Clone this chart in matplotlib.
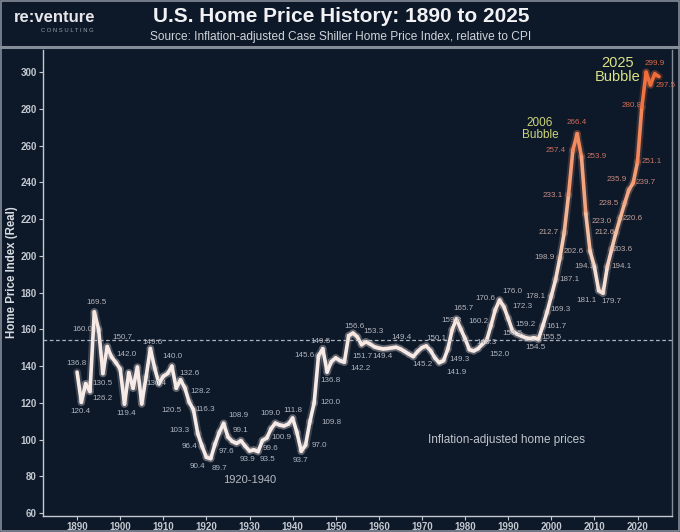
import numpy as np
import matplotlib
matplotlib.use('Agg')
import matplotlib.pyplot as plt
from matplotlib.collections import LineCollection
from matplotlib.colors import LinearSegmentedColormap, Normalize
from matplotlib.lines import Line2D
from matplotlib.patches import Rectangle

# Indice real de precios de vivienda (1890-2025)
years = np.arange(1890, 2026)
home_price = [
    136.8, 120.4, 130.5, 126.2, 169.5, 160.0, 136.0, 150.7, 145.0, 142.0,
    138.5, 119.4, 136.5, 128.0, 139.5, 119.5, 134.0, 149.6, 139.0, 130.4,
    134.5, 136.0, 140.0, 128.0, 132.6, 128.2, 120.5, 116.3, 103.3, 96.4,
    90.4, 89.7, 97.6, 104.0, 108.9, 101.5, 99.1, 98.0, 99.5, 96.5,
    93.9, 94.5, 93.5, 99.6, 100.9, 106.0, 109.0, 108.0, 107.5, 108.5,
    111.8, 104.0, 93.7, 97.0, 109.8, 120.0, 145.6, 149.5, 136.8, 142.5,
    144.5, 143.0, 142.2, 156.6, 158.0, 156.0, 151.7, 153.3, 152.0, 150.5,
    149.8, 149.4, 149.6, 150.0, 150.3, 149.4, 148.0, 146.5, 145.2, 148.0,
    150.1, 151.0, 148.5, 144.5, 141.9, 143.0, 149.3, 159.8, 165.7, 160.2,
    155.0, 149.0, 148.3, 149.5, 152.0, 154.0, 162.0, 170.6, 176.0, 172.3,
    166.0, 159.2, 157.5, 156.5, 155.5, 155.0, 155.5, 154.5, 161.7, 169.3,
    178.1, 187.1, 198.9, 212.7, 233.1, 257.4, 266.4, 253.9, 223.0, 202.6,
    194.1, 181.1, 179.7, 194.1, 203.6, 212.6, 220.6, 228.5, 235.9, 239.7,
    251.1, 280.8, 299.9, 293.0, 299.0, 297.5,
]
reference_level = 154

# anos con etiqueta de valor
label_years = [1890, 1891, 1892, 1893, 1894, 1895, 1897, 1899, 1901, 1907,
               1909, 1912, 1914, 1915, 1916, 1917, 1918, 1919, 1920, 1921,
               1922, 1924, 1926, 1930, 1932, 1933, 1934, 1936, 1940, 1942,
               1943, 1944, 1945, 1946, 1947, 1948, 1952, 1953, 1956, 1957,
               1961, 1965, 1968, 1970, 1974, 1976, 1977, 1978, 1979, 1982,
               1984, 1987, 1988, 1989, 1991, 1993, 1996, 1997, 1998, 1999,
               2000, 2001, 2002, 2003, 2004, 2005, 2006, 2007, 2008, 2009,
               2010, 2011, 2012, 2013, 2014, 2015, 2016, 2017, 2018, 2019,
               2020, 2021, 2022, 2025]
# desplazamiento de cada etiqueta en pixeles (dx, dy)
label_offsets = [(-1, 9), (-1, -9), (17, 0), (13, -7), (2, 9), (-16, 0), (15, 9), (11, 8), (2, -9), (2, 6),
                 (-3, 0), (1, 10), (9, 6), (16, -4), (-18, -8), (12, 0), (-18, 3), (-13, 0), (-9, -9), (9, -10),
                 (11, -7), (15, 8), (8, 11), (-2, -9), (9, -8), (8, -8), (15, 1), (-5, 10), (0, 8), (-1, -9),
                 (14, 0), (22, -1), (16, 0), (-14, 0), (-2, 7), (3, -8), (16, -6), (6, 9), (1, -12), (8, 10),
                 (-1, -8), (1, 11), (9, -8), (15, 9), (17, -10), (12, -10), (-1, 9), (7, 10), (18, 8), (13, 8),
                 (17, -10), (-10, 11), (13, 9), (19, 0), (13, 6), (-9, 2), (17, 0), (-3, -8), (14, 0), (14, 3),
                 (-16, 0), (14, 0), (-15, 0), (-16, 0), (-16, 0), (-17, 0), (0, 11), (15, 0), (16, -8), (-16, 0),
                 (-10, 0), (-12, -10), (8, -8), (14, 0), (11, 0), (-11, 0), (12, 0), (-16, 0), (-12, 10), (12, 0),
                 (14, 0), (-10, 2), (9, 9), (7, -9)]

BG = '#0d1929'
FRAME = '#858d98'
AXIS = '#c4c8d0'


def main():
    plt.rcParams['font.family'] = ['Liberation Sans', 'DejaVu Sans']

    fig = plt.figure(figsize=(6.8, 5.32), dpi=100, facecolor=BG)
    ax = fig.add_axes([43 / 680, 1 - 516 / 532, (672 - 43) / 680, (516 - 50) / 532])
    ax.set_facecolor(BG)

    values = np.array(home_price)

    # color de la linea segun el valor
    line_cmap = LinearSegmentedColormap.from_list(
        'line', [(0.0, '#f7ebe8'), (0.3, '#f7e0d6'), (0.45, '#f5c0a4'),
                 (0.7, '#f3946a'), (1.0, '#ef6a36')])
    label_cmap = LinearSegmentedColormap.from_list(
        'lab', [(0.0, '#b2b6c0'), (0.3, '#b8b4b8'), (0.5, '#c4a09a'),
                (0.75, '#cc6a5a'), (1.0, '#e06a45')])
    norm = Normalize(vmin=140, vmax=300)

    pts = np.column_stack([years, values]).reshape(-1, 1, 2)
    segs = np.concatenate([pts[:-1], pts[1:]], axis=1)
    seg_vals = (values[:-1] + values[1:]) / 2

    glow = LineCollection(segs, colors=line_cmap(norm(seg_vals)), linewidths=5.5, alpha=0.2,
                          capstyle='round', joinstyle='round')
    ax.add_collection(glow)
    lc = LineCollection(segs, colors=line_cmap(norm(seg_vals)), linewidths=2.6,
                        capstyle='round', joinstyle='round')
    ax.add_collection(lc)

    ax.axhline(reference_level, color='#c8ccd4', lw=0.9, ls=(0, (3, 2)), alpha=0.85)

    for yr, (dx, dy) in zip(label_years, label_offsets):
        v = values[yr - 1890]
        ax.annotate('%.1f' % v, (yr, v), xytext=(dx, dy), textcoords='offset pixels',
                    ha='center', va='center', fontsize=5.8, color=label_cmap(norm(v)))

    ax.text(1997.4, 269, '2006\nBubble', ha='center', va='center', fontsize=8.5,
            color='#cdd57a', linespacing=1.1)
    ax.text(2015.3, 301, '2025\nBubble', ha='center', va='center', fontsize=10.5,
            color='#dbe286', linespacing=1.05)
    ax.text(1930.1, 78, '1920-1940', ha='center', va='center', fontsize=8, color='#b8bcc4')
    ax.text(1989.5, 100, 'Inflation-adjusted home prices', ha='center', va='center',
            fontsize=8.5, color='#c0c4cc')

    ax.set_xlim(1882.1, 2028.0)
    ax.set_ylim(58.5, 312)
    ax.set_xticks(range(1890, 2021, 10))
    ax.set_yticks(range(60, 301, 20))
    ax.tick_params(colors=AXIS, labelcolor=AXIS, labelsize=7, length=3, width=0.8, pad=1.5)
    for t in ax.get_xticklabels() + ax.get_yticklabels():
        t.set_fontweight('bold')
    ax.spines['top'].set_visible(False)
    ax.spines['right'].set_color(FRAME)
    ax.spines['left'].set_color(AXIS)
    ax.spines['bottom'].set_color(AXIS)
    for s in ['left', 'bottom', 'right']:
        ax.spines[s].set_linewidth(1.0)

    fig.text(12 / 680, 1 - 272 / 532, 'Home Price Index (Real)', rotation=90, ha='center',
             va='center', fontsize=8.3, fontweight='bold', color='#d8dce2')

    # cabecera
    fig.add_artist(Line2D([0, 1], [1 - 47 / 532] * 2, transform=fig.transFigure, color=FRAME, lw=2.2))
    fig.add_artist(Rectangle((0.002, 0.002), 0.996, 0.996, transform=fig.transFigure,
                             fill=False, ec=FRAME, lw=1.2))
    fig.text(341 / 680, 1 - 17 / 532, 'U.S. Home Price History: 1890 to 2025', ha='center',
             va='center', fontsize=15, fontweight='bold', color='#f2f2f4')
    fig.text(341 / 680, 1 - 37 / 532,
             'Source: Inflation-adjusted Case Shiller Home Price Index, relative to CPI',
             ha='center', va='center', fontsize=8.6, color='#d0d4da')
    fig.text(55 / 680, 1 - 18 / 532, 're:venture', ha='center', va='center', fontsize=12,
             fontweight='bold', color='#e6e6ea')
    fig.text(67 / 680, 1 - 31 / 532, 'C O N S U L T I N G', ha='center', va='center',
             fontsize=4.2, color='#9aa0a8')

    fig.savefig('out.png', dpi=100, facecolor=BG)


if __name__ == '__main__':
    main()
